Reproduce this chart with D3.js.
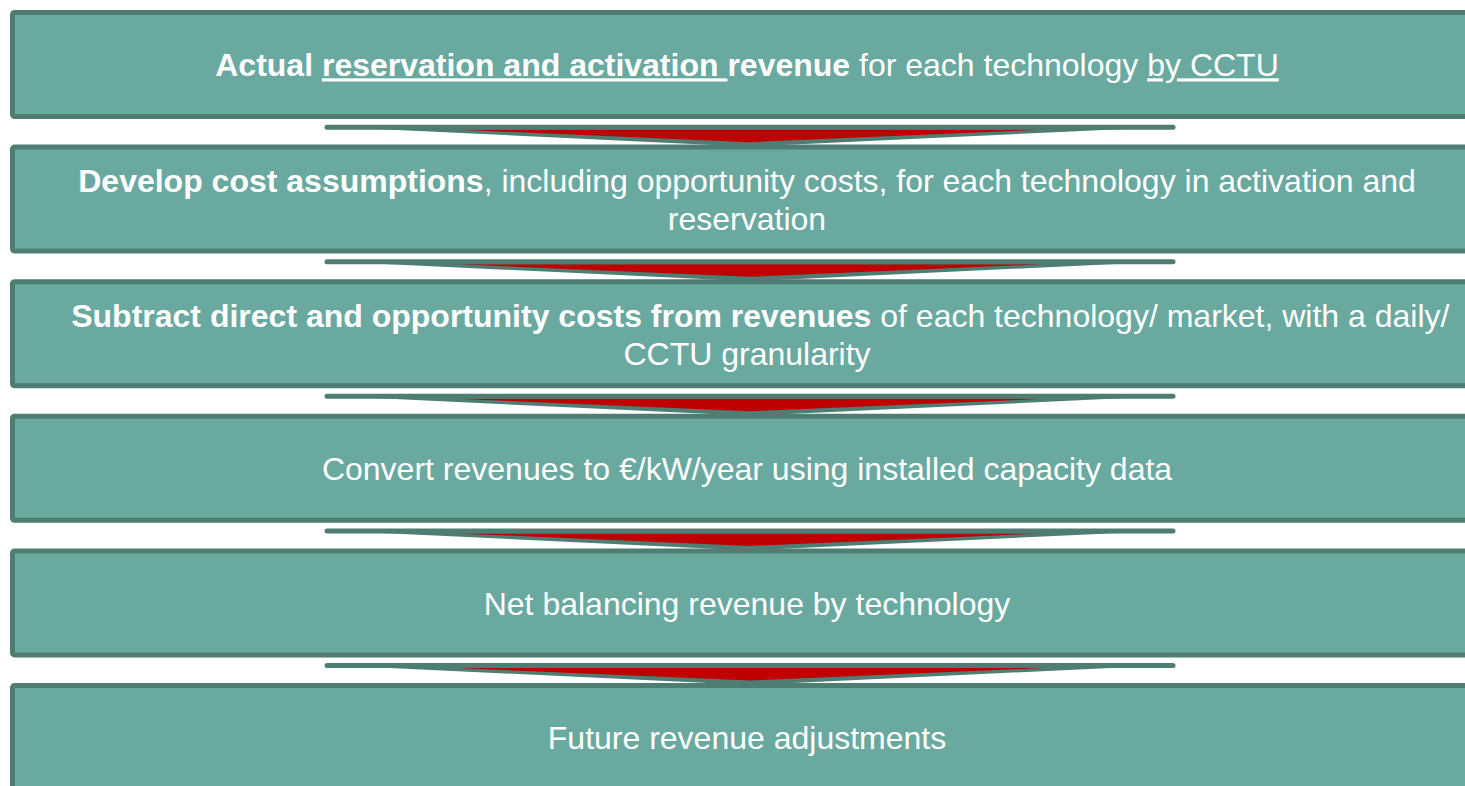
<!DOCTYPE html>
<html>
<head>
<meta charset="utf-8">
<script src="https://cdn.jsdelivr.net/npm/d3@7"></script>
<style>
  html, body { margin: 0; padding: 0; background: #ffffff; overflow: hidden; }
  svg { display: block; }
</style>
</head>
<body>
<svg id="chart" width="1465" height="786"></svg>
<script>
// ---- Data: process steps, each a list of lines, each line a list of text runs ----
const stepIds = ["s1", "s2", "s3", "s4", "s5", "s6"];
const step1 = [[
  { t: "Actual ", b: true },
  { t: "reservation and activation ", b: true, u: true },
  { t: "revenue", b: true },
  { t: " for each technology " },
  { t: "by CCTU", u: true }
]];
const step2 = [
  [{ t: "Develop cost assumptions", b: true }, { t: ", including opportunity costs, for each technology in activation and" }],
  [{ t: "reservation" }]
];
const step3 = [
  [{ t: "   Subtract direct and opportunity costs from revenues", b: true }, { t: " of each technology/ market, with a daily/" }],
  [{ t: "CCTU granularity" }]
];
const step4 = [[{ t: "Convert revenues to €/kW/year using installed capacity data" }]];
const step5 = [[{ t: "Net balancing revenue by technology" }]];
const step6 = [[{ t: "Future revenue adjustments" }]];
const stepTexts = [step1, step2, step3, step4, step5, step6];

// ---- Style / layout ----
const W = 1465, H = 786;
const fill = "#6aa99f", border = "#4e7d73", red = "#c00000";
const boxLeft = 10, boxRight = 1484, boxH = 109, bw = 5;
const fontSize = 32, lineH = 38;

const svg = d3.select("#chart");

const y = d3.scaleLinear().domain([0, stepIds.length - 1]).range([10, 683]);
const cx = (boxLeft + boxRight) / 2;

// boxes
const g = svg.append("g");
stepIds.forEach((id, i) => {
  const top = y(i);
  g.append("rect")
    .attr("x", boxLeft + bw / 2).attr("y", top + bw / 2)
    .attr("width", boxRight - boxLeft - bw).attr("height", boxH - bw)
    .attr("rx", 2).attr("ry", 2)
    .attr("fill", fill).attr("stroke", border).attr("stroke-width", bw);

  const lines = stepTexts[i];
  const midY = top + boxH / 2;
  lines.forEach((runs, li) => {
    const baseline = midY + (li - (lines.length - 1) / 2) * lineH + fontSize * 0.37;
    const txt = g.append("text")
      .attr("x", cx).attr("y", baseline)
      .attr("text-anchor", "middle")
      .attr("xml:space", "preserve")
      .style("white-space", "pre")
      .attr("font-family", "'Liberation Sans', Arial, sans-serif")
      .attr("font-size", fontSize)
      .attr("fill", "#ffffff");
    runs.forEach(r => {
      txt.append("tspan")
        .text(r.t)
        .attr("font-weight", r.b ? "bold" : "normal")
        .attr("text-decoration", r.u ? "underline" : null);
    });
  });
});

// arrows between boxes
const acx = 750, halfOuter = 423, halfRed = 293;
for (let i = 0; i < stepIds.length - 1; i++) {
  const bottom = y(i) + boxH;
  const nextTop = y(i + 1);
  const a = bottom + (nextTop - bottom) * 0.22;
  const ag = svg.append("g");
  // grey outer triangle
  ag.append("path")
    .attr("d", `M${acx - halfOuter},${a + 2} L${acx + halfOuter},${a + 2} L${acx},${a + 22} Z`)
    .attr("fill", border);
  // red inner triangle
  ag.append("path")
    .attr("d", `M${acx - halfRed},${a + 5} L${acx + halfRed},${a + 5} L${acx},${a + 17.5} Z`)
    .attr("fill", red);
  // top bar
  ag.append("line")
    .attr("x1", acx - halfOuter).attr("x2", acx + halfOuter)
    .attr("y1", a + 2.5).attr("y2", a + 2.5)
    .attr("stroke", border).attr("stroke-width", 5).attr("stroke-linecap", "round");
}
</script>
</body>
</html>
